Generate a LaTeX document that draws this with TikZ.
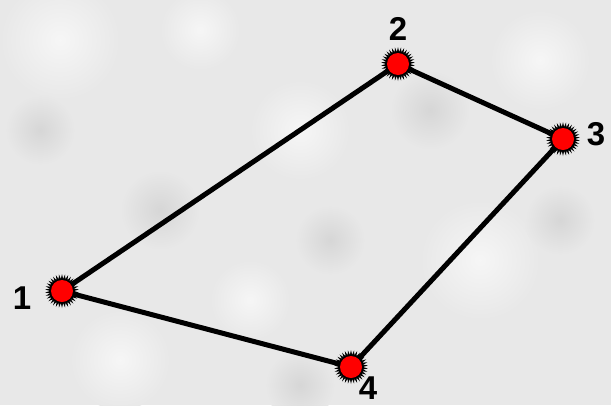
\documentclass[tikz,border=0pt]{standalone}
\usepackage{fontspec}
\setmainfont{Liberation Sans}
\usetikzlibrary{shapes.geometric}
\definecolor{bg}{RGB}{232,232,232}
\tikzset{
  edge/.style={line width=5pt, black},
  burst/.style={star, star points=34, star point ratio=1.4, fill=black, minimum size=34pt, inner sep=0pt},
  dot/.style={circle, fill=red, minimum size=22pt, inner sep=0pt},
  lab/.style={font=\fontsize{33}{33}\selectfont\bfseries, text=black, inner sep=0pt},
  lite/.style={inner color=white!60!bg, outer color=bg},
  dark/.style={inner color=black!16, outer color=bg}
}
\begin{document}
\begin{tikzpicture}[x=1pt,y=-1pt]
\fill[bg] (0,0) rectangle (611,405);
\useasboundingbox (0,0) rectangle (611,405);
\foreach \x/\y/\r in {60/40/60, 300/130/50, 480/260/60, 540/60/50, 120/360/50, 250/300/40, 200/30/40}{
  \shade[lite] (\x,\y) circle (\r);
}
\foreach \x/\y/\r in {160/210/40, 430/110/40, 560/220/35, 40/130/35, 300/385/35, 330/240/35}{
  \shade[dark] (\x,\y) circle (\r);
}
\coordinate (p1) at (62,291);
\coordinate (p2) at (398,64);
\coordinate (p3) at (563,139);
\coordinate (p4) at (351,367);
\draw[edge] (p1) -- (p2) -- (p3) -- (p4) -- cycle;
\foreach \i in {1,2,3,4}{
  \node[burst] (s\i) at (p\i) {};
  \node[dot] (n\i) at (p\i) {};
}
\node[lab] (l1) at (22,298) {1};
\node[lab] (l2) at (398,29) {2};
\node[lab] (l3) at (596,134) {3};
\node[lab] (l4) at (368,388) {4};
\end{tikzpicture}
\end{document}
